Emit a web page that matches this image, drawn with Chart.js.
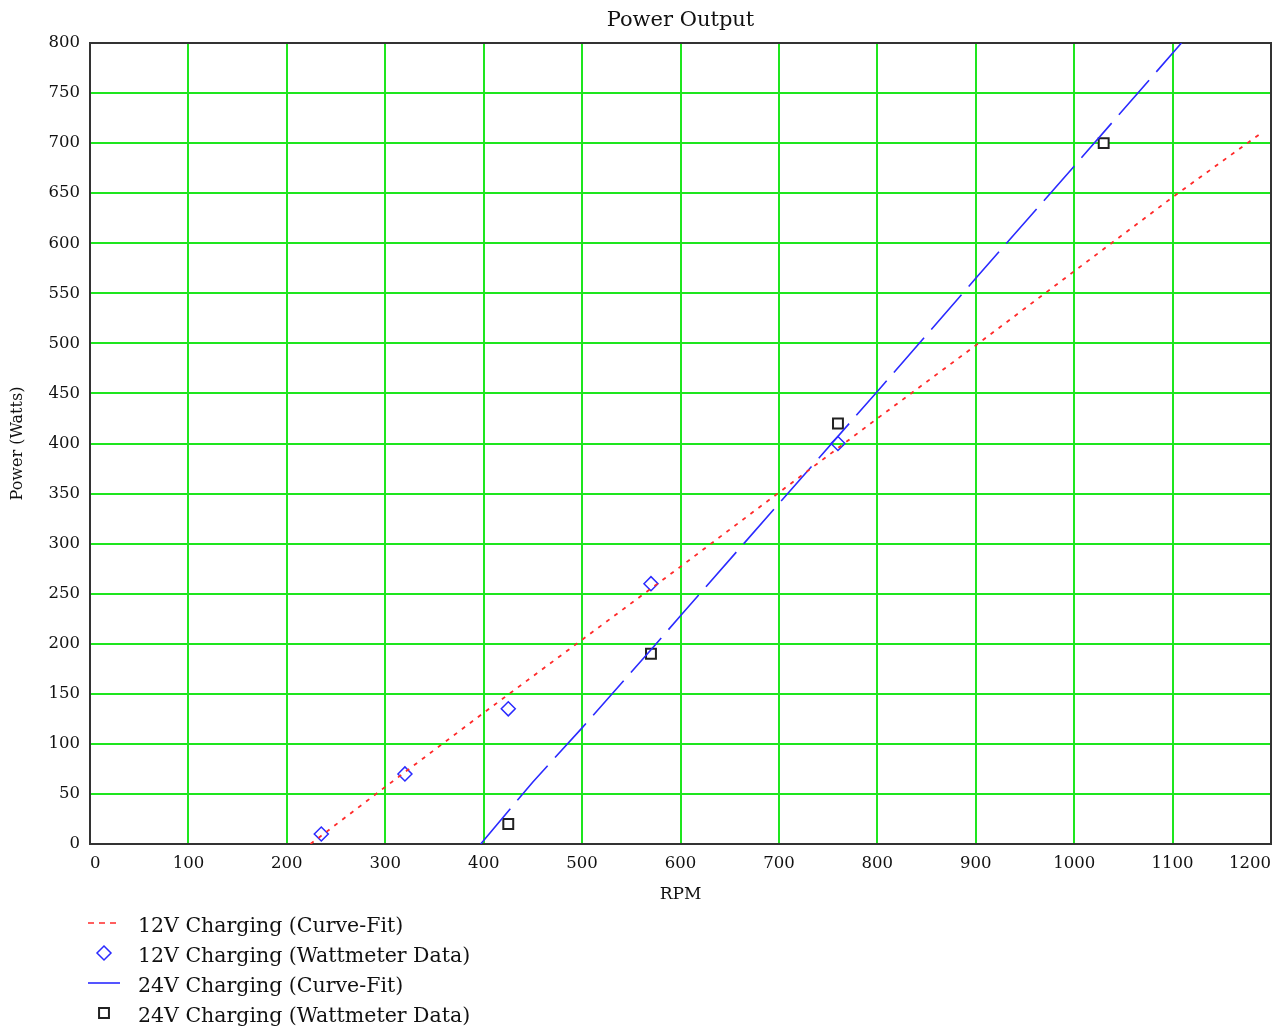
<!DOCTYPE html>
<html>
<head>
<meta charset="utf-8">
<title>Power Output</title>
<script src="https://cdn.jsdelivr.net/npm/chart.js@4.4.1/dist/chart.umd.min.js"></script>
<style>
  html, body { margin: 0; padding: 0; background: #fff; }
  #wrap { width: 1284px; height: 1030px; position: relative; }
</style>
</head>
<body>
<div id="wrap"><canvas id="chart"></canvas></div>
<script>
// Curve fits and measured points (RPM vs. Watts)
const rpm12Fit   = [224, 300, 400, 500, 600, 700, 800, 900, 1000, 1100, 1190];
const watts12Fit = [0, 57, 131, 204, 277, 351, 425, 498, 572, 646, 710];

const rpm12Data   = [235, 320, 425, 570, 760];
const watts12Data = [10, 70, 135, 260, 400];

const rpm24Fit   = [397, 450, 500, 570, 600, 700, 800, 900, 1000, 1109];
const watts24Fit = [0, 62, 116, 194, 228, 340, 452, 565, 677, 800];

const rpm24Data   = [425, 570, 760, 1030];
const watts24Data = [20, 190, 420, 700];

const seriesLabels = [
  '12V Charging (Curve-Fit)',
  '12V Charging (Wattmeter Data)',
  '24V Charging (Curve-Fit)',
  '24V Charging (Wattmeter Data)'
];

const chartTitle = 'Power Output';

const pts = (xs, ys) => xs.map((x, i) => ({ x: x, y: ys[i] }));

const FONT = '"DejaVu Serif", "Liberation Serif", serif';
const RED = '#ff2a2a';
const BLUE = '#2a2aff';
const DARK = '#222222';
const GRID = '#1ee61e';

// Dark frame round the plotting area
const framePlugin = {
  id: 'frame',
  beforeDatasetsDraw(chart) {
    const { ctx, chartArea: a } = chart;
    ctx.save();
    ctx.strokeStyle = '#333333';
    ctx.lineWidth = 2;
    ctx.strokeRect(a.left, a.top, a.right - a.left, a.bottom - a.top);
    ctx.restore();
  }
};

// Title centred over the plotting area
const areaTitle = {
  id: 'areaTitle',
  afterDraw(chart) {
    const { ctx, chartArea: a } = chart;
    ctx.save();
    ctx.font = '21px ' + FONT;
    ctx.fillStyle = '#111';
    ctx.textAlign = 'center';
    ctx.textBaseline = 'alphabetic';
    ctx.fillText(chartTitle, (a.left + a.right) / 2, 26);
    ctx.restore();
  }
};

// Stacked legend below the x-axis title
const stackedLegend = {
  id: 'stackedLegend',
  afterDraw(chart) {
    const { ctx } = chart;
    ctx.save();
    ctx.font = '20.5px ' + FONT;
    ctx.fillStyle = '#111';
    ctx.textBaseline = 'alphabetic';
    chart.data.datasets.forEach((ds, i) => {
      const cy = 923 + 30 * i;
      const ty = 932 + 30 * i;
      ctx.save();
      if (ds.showLine) {
        ctx.strokeStyle = ds.borderColor;
        ctx.lineWidth = 1.6;
        ctx.setLineDash(ds.legendDash || []);
        ctx.beginPath();
        ctx.moveTo(88, cy);
        ctx.lineTo(120, cy);
        ctx.stroke();
      } else {
        ctx.strokeStyle = ds.borderColor;
        ctx.fillStyle = ds.backgroundColor;
        ctx.lineWidth = ds.borderWidth;
        const r = ds.pointRadius;
        ctx.beginPath();
        if (ds.pointStyle === 'rectRot') {
          ctx.moveTo(104, cy - r);
          ctx.lineTo(104 + r, cy);
          ctx.lineTo(104, cy + r);
          ctx.lineTo(104 - r, cy);
          ctx.closePath();
        } else {
          const s = r * Math.SQRT1_2;
          ctx.rect(104 - s, cy - s, 2 * s, 2 * s);
        }
        ctx.fill();
        ctx.stroke();
      }
      ctx.restore();
      ctx.fillText(ds.label, 138, ty);
    });
    ctx.restore();
  }
};

new Chart(document.getElementById('chart'), {
  type: 'scatter',
  data: {
    datasets: [
      {
        label: seriesLabels[0],
        data: pts(rpm12Fit, watts12Fit),
        showLine: true,
        borderColor: RED,
        backgroundColor: RED,
        borderWidth: 1.8,
        borderDash: [4, 6],
        legendDash: [6, 5],
        pointRadius: 0,
        tension: 0
      },
      {
        label: seriesLabels[1],
        data: pts(rpm12Data, watts12Data),
        showLine: false,
        pointStyle: 'rectRot',
        pointRadius: 7,
        borderWidth: 1.5,
        borderColor: BLUE,
        backgroundColor: 'rgba(255,255,255,0)'
      },
      {
        label: seriesLabels[2],
        data: pts(rpm24Fit, watts24Fit),
        showLine: true,
        borderColor: BLUE,
        backgroundColor: BLUE,
        borderWidth: 1.6,
        borderDash: [46, 11],
        legendDash: [],
        pointRadius: 0,
        tension: 0
      },
      {
        label: seriesLabels[3],
        data: pts(rpm24Data, watts24Data),
        showLine: false,
        pointStyle: 'rect',
        pointRadius: 7,
        borderWidth: 2,
        borderColor: DARK,
        backgroundColor: '#ffffff'
      }
    ]
  },
  options: {
    responsive: true,
    maintainAspectRatio: false,
    animation: false,
    devicePixelRatio: 1,
    layout: { padding: { left: 0, right: 13, top: 43, bottom: 116 } },
    plugins: {
      legend: { display: false },
      tooltip: { enabled: false },
      title: { display: false }
    },
    scales: {
      x: {
        type: 'linear',
        min: 0,
        max: 1200,
        afterFit(scale) { scale.height = 70; },
        ticks: {
          stepSize: 100,
          align: 'inner',
          padding: 10,
          color: '#111',
          maxRotation: 0,
          font: { family: FONT, size: 16.5 },
          callback: (v) => String(v)
        },
        grid: { color: GRID, lineWidth: 2, drawTicks: false },
        border: { display: false },
        title: {
          display: true,
          text: 'RPM',
          color: '#111',
          font: { family: FONT, size: 17 },
          padding: { top: 0, bottom: 8.8 }
        }
      },
      y: {
        type: 'linear',
        min: 0,
        max: 800,
        afterFit(scale) { scale.width = 90; },
        ticks: {
          stepSize: 50,
          padding: 10,
          color: '#111',
          font: { family: FONT, size: 16.5 },
          callback: (v) => String(v)
        },
        grid: { color: GRID, lineWidth: 2, drawTicks: false },
        border: { display: false },
        title: {
          display: true,
          text: 'Power (Watts)',
          color: '#111',
          font: { family: FONT, size: 16 },
          padding: { top: 8, bottom: 0 }
        }
      }
    }
  },
  plugins: [framePlugin, areaTitle, stackedLegend]
});
</script>
</body>
</html>
